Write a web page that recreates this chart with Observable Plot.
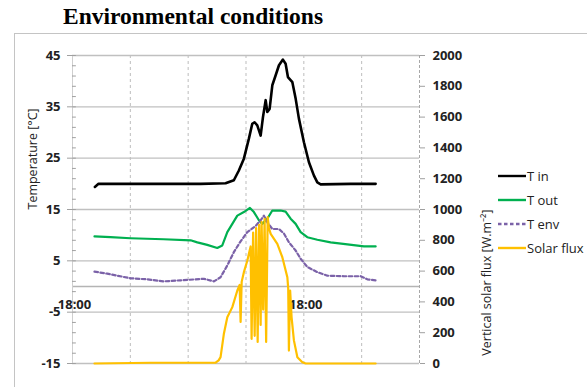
<!DOCTYPE html>
<html>
<head>
<meta charset="utf-8">
<script src="https://cdn.jsdelivr.net/npm/d3@7"></script>
<script src="https://cdn.jsdelivr.net/npm/@observablehq/plot@0.6"></script>
<style>
  body { margin: 0; width: 587px; height: 387px; overflow: hidden; background: #fff; position: relative; font-family: "Open Sans", sans-serif; }
  #frame { position: absolute; left: 14px; top: 33px; width: 700px; height: 500px; border: 1px solid #c4c4c4; }
  #title { position: absolute; left: 63px; top: 5px; font: bold 23.5px/1 "Liberation Serif", serif; color: #000; white-space: nowrap; }
  #chart { position: absolute; left: 0; top: 33px; }
  #legend { position: absolute; left: 498px; top: 164px; font-size: 13px; color: #222; }
  #legend .row { height: 24px; display: flex; align-items: center; }
  #legend svg { display: block; margin-right: 1px; }
</style>
</head>
<body>
<div id="frame"></div>
<div id="title">Environmental conditions</div>
<div id="chart"></div>
<div id="legend"></div>
<script>
// Hours counted from the first 18:00 mark (the axis spans 36 h)
const xTickPos = [0, 24];
const xTickLabels = ["18:00", "18:00"];
const tempTicks = [-15, -5, 5, 15, 25, 35, 45];
const tempMinorTicks = d3.range(-15, 46, 2);
const solarTicks = [0, 200, 400, 600, 800, 1000, 1200, 1400, 1600, 1800, 2000];

// Inside temperature (°C)
const tInTime = [2.32, 2.70, 8.10, 13.29, 15.88, 16.74, 17.26, 17.78, 18.30, 18.65, 18.89, 19.17, 19.52, 19.76, 20.04, 20.21, 20.45, 20.73, 21.07, 21.42, 21.83, 22.11, 22.35, 22.81, 23.15, 23.49, 24.01, 24.53, 25.05, 25.40, 25.75, 28.86, 31.45];
const tInVal  = [19.4, 20.0, 20.0, 20.0, 20.1, 20.7, 22.6, 24.9, 28.8, 31.7, 32.0, 31.4, 29.4, 33.0, 36.3, 34.0, 34.6, 39.2, 41.1, 43.1, 44.2, 43.4, 40.8, 39.8, 36.6, 32.7, 28.1, 24.2, 21.6, 20.3, 19.9, 20.0, 20.0];

// Outside temperature (°C)
const tOutTime = [2.28, 3.94, 6.02, 9.45, 12.25, 12.95, 13.98, 15.02, 15.54, 16.06, 16.58, 17.10, 17.78, 18.41, 18.82, 19.34, 19.69, 20.21, 20.73, 21.59, 22.11, 22.63, 23.15, 23.67, 24.36, 25.40, 26.78, 28.52, 30.24, 31.45];
const tOutVal  = [9.75, 9.6, 9.4, 9.2, 9.0, 8.6, 8.1, 7.5, 8.0, 10.6, 12.2, 13.8, 14.5, 15.3, 14.5, 12.9, 12.2, 13.2, 14.8, 14.8, 14.6, 13.2, 12.2, 10.6, 9.6, 9.1, 8.6, 8.2, 7.8, 7.8];

// Environment temperature (°C)
const tEnvTime = [2.28, 3.60, 6.02, 7.75, 9.48, 11.21, 13.63, 14.67, 15.36, 16.06, 16.74, 17.44, 18.14, 19.00, 19.52, 19.86, 20.21, 20.73, 21.42, 21.94, 22.46, 23.15, 23.67, 24.36, 25.40, 26.44, 28.17, 29.90, 30.59, 31.45];
const tEnvVal  = [2.9, 2.5, 1.6, 1.4, 1.0, 1.2, 1.5, 1.0, 1.8, 4.1, 6.7, 8.8, 10.6, 11.8, 12.9, 13.8, 12.5, 11.2, 11.2, 10.3, 8.6, 7.0, 5.4, 3.8, 2.8, 2.1, 2.0, 2.0, 1.4, 1.2];

// Vertical solar flux (W/m²)
const solarTime = [2.28, 8.10, 14.85, 15.16, 15.36, 15.71, 16.06, 16.58, 17.10, 17.34, 17.44, 17.55, 17.78, 18.14, 18.30, 18.48, 18.58, 18.74, 18.90, 19.05, 19.21, 19.36, 19.52, 19.62, 19.78, 19.93, 20.09, 20.25, 20.38, 20.56, 21.25, 21.77, 22.29, 22.38, 22.45, 22.58, 22.73, 22.97, 23.33, 23.85, 24.19, 31.45];
const solarVal  = [0, 5, 5, 20, 41, 195, 300, 366, 474, 510, 270, 530, 593, 669, 712, 760, 160, 850, 180, 880, 140, 900, 250, 920, 350, 940, 140, 950, 880, 842, 777, 690, 560, 487, 84, 474, 300, 150, 41, 8, 0, 0];

const zipSeries = (ts, vs) => ts.map((t, i) => ({t, v: vs[i]}));
const tIn = zipSeries(tInTime, tInVal);
const tOut = zipSeries(tOutTime, tOutVal);
const tEnv = zipSeries(tEnvTime, tEnvVal);
const solar = zipSeries(solarTime, solarVal);

// Solar flux 0–2000 shares the temperature scale −15–45
const fluxToTemp = s => -15 + s * 60 / 2000;

const series = [
  {name: "T in", color: "#000000", width: 2.6, dash: null},
  {name: "T out", color: "#00b050", width: 2.2, dash: null},
  {name: "T env", color: "#7b62a8", width: 2.2, dash: "3.5,2.5"},
  {name: "Solar flux", color: "#ffc000", width: 2.2, dash: null}
];

const chart = Plot.plot({
  width: 587,
  height: 354,
  marginTop: 22,
  marginBottom: 24,
  marginLeft: 72,
  marginRight: 168,
  x: {domain: [0, 36], axis: null},
  y: {domain: [-15, 45], axis: null},
  style: {fontFamily: "Open Sans, sans-serif", fontSize: "13px", color: "#222", background: "transparent", overflow: "visible"},
  marks: [
    Plot.gridX(d3.range(6, 36, 6), {stroke: "#bdbdbd", strokeOpacity: 1, strokeDasharray: "3,3"}),
    Plot.gridY(tempTicks, {stroke: "#c0c0c0", strokeOpacity: 1, strokeWidth: 1.3}),
    Plot.ruleY([0], {stroke: "#b4b4b4", strokeWidth: 1.3}),
    Plot.ruleX([0], {stroke: "#cfcfcf"}),
    Plot.ruleX([36], {stroke: "#a8a8a8", strokeDasharray: "3,2"}),
    // minor ticks along the temperature axis, inside the frame
    Plot.ruleY(tempMinorTicks, {x1: 0, x2: 0.4, stroke: "#a0a0a0"}),
    Plot.axisY(tempTicks, {
      anchor: "left", tickSize: 5, tickPadding: 7, fontWeight: "bold", fontSize: 13,
      stroke: "#a0a0a0", fill: "#222", label: null,
      tickFormat: d => String(d)
    }),
    Plot.axisY(solarTicks.map(fluxToTemp), {
      anchor: "right", tickSize: 5, tickPadding: 8, fontWeight: "bold", fontSize: 13,
      stroke: "#a0a0a0", fill: "#222", label: null,
      tickFormat: (d, i) => String(solarTicks[i])
    }),
    Plot.text(xTickPos, {x: d => d, y: 0, text: (d, i) => xTickLabels[i], dx: 2, dy: 18, fontWeight: "bold", fontSize: 13, fill: "#222"}),
    Plot.text(["Temperature [°C]"], {frameAnchor: "left", rotate: -90, dx: -40, fontSize: 12.5, fill: "#222"}),
    Plot.text(["Vertical solar flux [W.m⁻²]"], {frameAnchor: "right", rotate: -90, dx: 67, fontSize: 12.5, fill: "#222"}),
    Plot.line(tIn, {x: "t", y: "v", stroke: series[0].color, strokeWidth: series[0].width}),
    Plot.line(tOut, {x: "t", y: "v", stroke: series[1].color, strokeWidth: series[1].width}),
    Plot.line(tEnv, {x: "t", y: "v", stroke: series[2].color, strokeWidth: series[2].width, strokeDasharray: series[2].dash}),
    Plot.line(solar, {x: "t", y: d => fluxToTemp(d.v), stroke: series[3].color, strokeWidth: series[3].width})
  ]
});
document.getElementById("chart").append(chart);

// Legend
const legend = d3.select("#legend");
for (const s of series) {
  const row = legend.append("div").attr("class", "row");
  const sw = row.append("svg").attr("width", 28).attr("height", 10);
  sw.append("line").attr("x1", 0).attr("x2", 28).attr("y1", 5).attr("y2", 5)
    .attr("stroke", s.color).attr("stroke-width", 2.4)
    .attr("stroke-dasharray", s.dash);
  row.append("span").text(s.name);
}
</script>
</body>
</html>
